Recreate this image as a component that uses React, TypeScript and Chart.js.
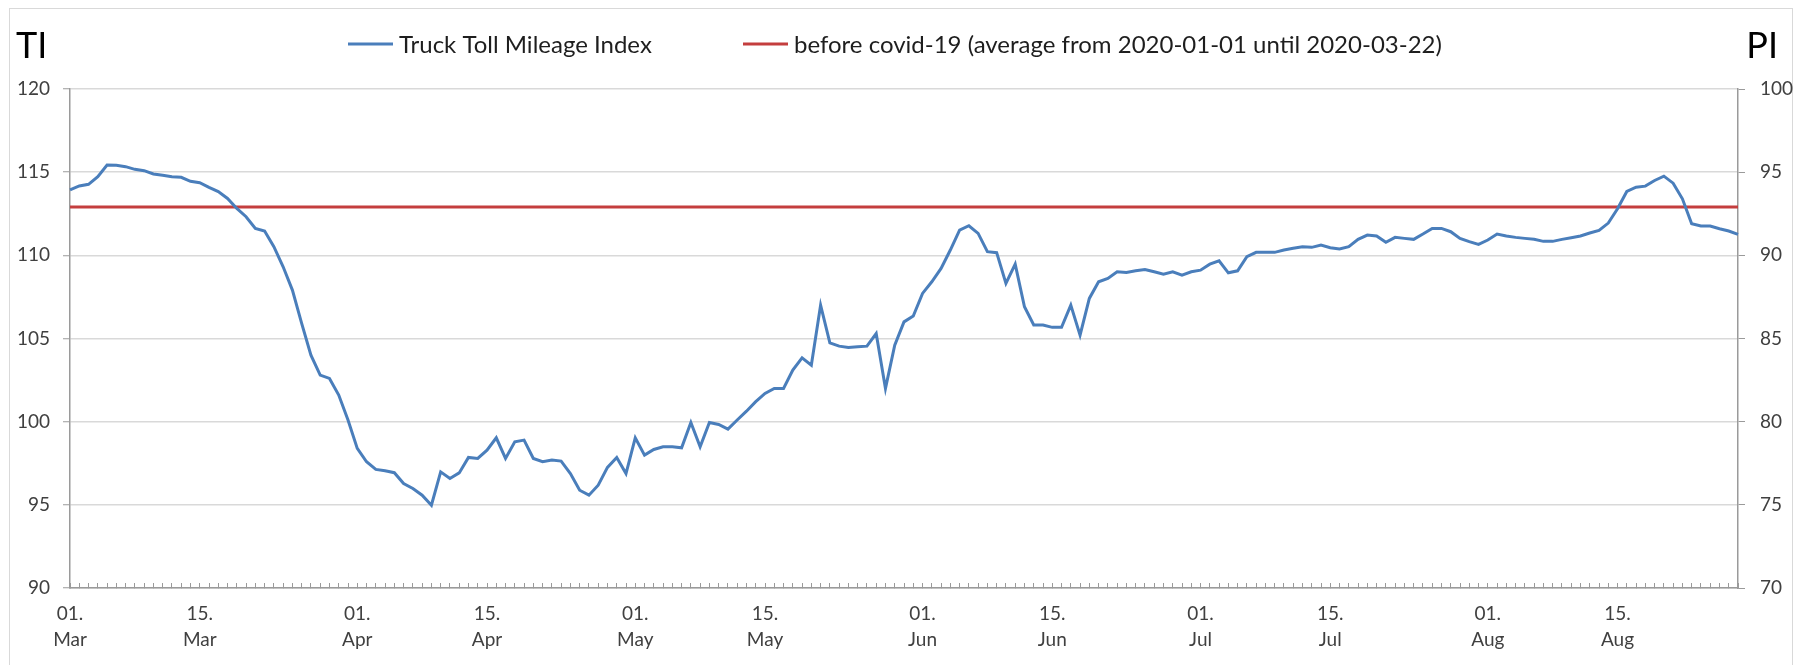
import React, { useEffect, useRef } from 'react';
import { Chart, registerables } from 'chart.js';

Chart.register(...registerables);

// ---- categories (one per day, 2020-03-01 .. 2020-08-28) ----
const monthNames = ['Mar', 'Apr', 'May', 'Jun', 'Jul', 'Aug'];
const daysInRange = [31, 30, 31, 30, 31, 28];
const labeledDays = [1, 15];

const categories: string[] = [];
monthNames.forEach((m, i) => {
  for (let d = 1; d <= daysInRange[i]; d++) {
    categories.push(`${String(d).padStart(2, '0')}. ${m}`);
  }
});

// ---- series values (Truck Toll Mileage Index, TI) ----
const marValues = [
  113.93, 114.17, 114.27, 114.73, 115.43, 115.42, 115.33, 115.17, 115.09, 114.89,
  114.81, 114.73, 114.69, 114.45, 114.37, 114.09, 113.83, 113.42, 112.82, 112.32,
  111.62, 111.46, 110.52, 109.31, 107.91, 105.91, 104.0, 102.8, 102.6, 101.6,
  100.1,
];
const aprValues = [
  98.39, 97.59, 97.13, 97.05, 96.93, 96.28, 95.98, 95.58, 94.98, 96.98,
  96.58, 96.92, 97.85, 97.79, 98.29, 99.03, 97.79, 98.79, 98.89, 97.79,
  97.59, 97.69, 97.63, 96.88, 95.88, 95.58, 96.18, 97.25, 97.85, 96.88,
];
const mayValues = [
  99.03, 97.99, 98.33, 98.49, 98.49, 98.43, 99.95, 98.49, 99.95, 99.83,
  99.55, 100.1, 100.63, 101.2, 101.7, 102.0, 102.0, 103.1, 103.84, 103.4,
  107.0, 104.74, 104.54, 104.46, 104.5, 104.54, 105.3, 102.0, 104.6, 106.0,
  106.35,
];
const junValues = [
  107.71, 108.41, 109.21, 110.32, 111.52, 111.78, 111.32, 110.22, 110.16, 108.31,
  109.47, 106.91, 105.81, 105.81, 105.67, 105.67, 107.01, 105.2, 107.41, 108.41,
  108.61, 109.01, 108.97, 109.07, 109.15, 109.01, 108.87, 109.01, 108.81, 109.01,
];
const julValues = [
  109.11, 109.47, 109.67, 108.95, 109.07, 109.92, 110.18, 110.18, 110.18, 110.32,
  110.42, 110.52, 110.48, 110.62, 110.46, 110.38, 110.52, 110.96, 111.22, 111.16,
  110.78, 111.08, 111.02, 110.96, 111.28, 111.62, 111.62, 111.42, 111.02, 110.82,
  110.66,
];
const augValues = [
  110.92, 111.28, 111.16, 111.08, 111.02, 110.97, 110.84, 110.84, 110.96, 111.06,
  111.16, 111.34, 111.5, 111.94, 112.8, 113.84, 114.1, 114.16, 114.5, 114.76,
  114.34, 113.4, 111.9, 111.76, 111.76, 111.6, 111.46, 111.26,
];
const mileageIndex = [
  ...marValues, ...aprValues, ...mayValues, ...junValues, ...julValues, ...augValues,
];

// ---- reference level: average 2020-01-01 .. 2020-03-22 ----
const baselineValue = 112.9;

// ---- axis ranges / titles / legend labels ----
const leftAxisRange = [90, 120];
const rightAxisRange = [70, 100];
const axisStep = 5;
const leftAxisTitle = 'TI';
const rightAxisTitle = 'PI';
const seriesLabel = 'Truck Toll Mileage Index';
const baselineLabel = 'before covid-19 (average from 2020-01-01 until 2020-03-22)';

const BLUE = '#4A7EBB';
const RED = '#C43E3E';
const AXIS = '#9a9a9a';
const GRID = '#d9d9d9';
const FONT = 'Lato, Carlito, "Open Sans", sans-serif';

// legend entry start positions (x of the line sample)
const legendStarts = [348, 743];

const headerPlugin = {
  id: 'header',
  afterDraw(chart: any) {
    const ctx = chart.ctx as CanvasRenderingContext2D;
    ctx.save();
    ctx.textBaseline = 'alphabetic';
    ctx.fillStyle = '#000000';
    ctx.font = `36px ${FONT}`;
    ctx.textAlign = 'left';
    ctx.fillText(leftAxisTitle, 16, 58);
    ctx.textAlign = 'right';
    ctx.fillText(rightAxisTitle, 1778, 58);

    ctx.font = `24px ${FONT}`;
    ctx.textAlign = 'left';
    const lineLen = 45;
    const gap = 6;
    chart.data.datasets.forEach((ds: any, i: number) => {
      const x = legendStarts[i] ?? legendStarts[0];
      ctx.strokeStyle = ds.borderColor;
      ctx.lineWidth = 3;
      ctx.beginPath();
      ctx.moveTo(x, 44);
      ctx.lineTo(x + lineLen, 44);
      ctx.stroke();
      ctx.fillStyle = '#1e1e1e';
      ctx.fillText(ds.label, x + lineLen + gap, 53);
    });
    ctx.restore();
  },
};

export default function App() {
  const canvasRef = useRef<HTMLCanvasElement | null>(null);

  useEffect(() => {
    if (!canvasRef.current) return;
    const tickFont = { family: FONT, size: 19 };
    const chart = new Chart(canvasRef.current, {
      type: 'line',
      data: {
        labels: categories,
        datasets: [
          {
            label: seriesLabel,
            data: mileageIndex,
            borderColor: BLUE,
            backgroundColor: BLUE,
            borderWidth: 3,
            pointRadius: 0,
            tension: 0,
            yAxisID: 'y',
            order: 1,
          },
          {
            label: baselineLabel,
            data: [
              { x: categories[0], y: baselineValue },
              { x: categories[categories.length - 1], y: baselineValue },
            ] as any,
            borderColor: RED,
            backgroundColor: RED,
            borderWidth: 3,
            pointRadius: 0,
            tension: 0,
            yAxisID: 'y',
            order: 2,
          },
        ],
      },
      options: {
        animation: false,
        responsive: false,
        devicePixelRatio: 1,
        layout: { padding: { top: 89, left: 0, right: 0, bottom: 0 } },
        plugins: {
          legend: { display: false },
          tooltip: { enabled: false },
        },
        scales: {
          x: {
            type: 'category',
            offset: false,
            grid: {
              drawOnChartArea: false,
              drawTicks: true,
              tickLength: -5,
              tickColor: AXIS,
              tickWidth: 1,
            },
            border: { color: AXIS, width: 1.5 },
            ticks: {
              autoSkip: false,
              maxRotation: 0,
              minRotation: 0,
              padding: 18,
              color: '#404040',
              font: { ...tickFont, lineHeight: 1.37 },
              callback: (_v: any, index: number) => {
                const [day, mon] = categories[index].split(' ');
                return labeledDays.includes(parseInt(day, 10)) ? [day, mon] : '';
              },
            },
            afterFit: (s: any) => {
              s.height = 77;
            },
          },
          y: {
            position: 'left',
            min: leftAxisRange[0],
            max: leftAxisRange[1],
            grid: {
              color: GRID,
              lineWidth: 1.5,
              drawTicks: true,
              tickLength: 7,
              tickColor: AXIS,
              tickWidth: 1,
            },
            border: { color: AXIS, width: 1.5 },
            ticks: { stepSize: axisStep, padding: 13, color: '#404040', font: tickFont },
            afterFit: (s: any) => {
              s.width = 70;
            },
          },
          y2: {
            position: 'right',
            min: rightAxisRange[0],
            max: rightAxisRange[1],
            grid: {
              drawOnChartArea: false,
              drawTicks: true,
              tickLength: 7,
              tickColor: AXIS,
              tickWidth: 1,
            },
            border: { color: AXIS, width: 1.5 },
            ticks: { stepSize: axisStep, padding: 15, color: '#404040', font: tickFont },
            afterFit: (s: any) => {
              s.width = 69;
            },
          },
        },
      } as any,
      plugins: [headerPlugin],
    });
    return () => chart.destroy();
  }, []);

  return (
    <div
      style={{
        position: 'fixed',
        left: 0,
        top: 0,
        width: 1807,
        height: 665,
        overflow: 'hidden',
        background: '#ffffff',
      }}
    >
      <div
        style={{
          position: 'absolute',
          left: 9,
          top: 8,
          width: 1784,
          height: 700,
          border: '1px solid #d9d9d9',
          boxSizing: 'border-box',
        }}
      />
      <canvas
        ref={canvasRef}
        width={1807}
        height={665}
        style={{ position: 'absolute', left: 0, top: 0, width: 1807, height: 665 }}
      />
    </div>
  );
}
